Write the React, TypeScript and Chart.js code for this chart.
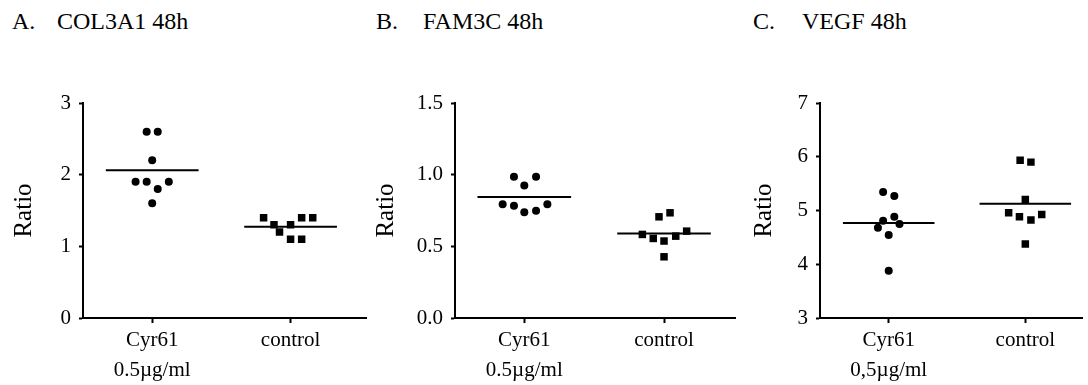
import React, { useEffect, useRef } from 'react';
import { Chart, registerables } from 'chart.js';

Chart.register(...registerables);

// ---------- data ----------
const categories = ['Cyr61', 'control'];

const panelLetters = ['A.', 'B.', 'C.'];
const panelGenes = ['COL3A1 48h', 'FAM3C 48h', 'VEGF 48h'];
const yAxisLabel = 'Ratio';

const xTickLabelsAB = [['Cyr61', '0.5µg/ml'], 'control'];
const xTickLabelsC = [['Cyr61', '0,5µg/ml'], 'control'];

const yTicksA = [0, 1, 2, 3];
const yTicksB = [0, 0.5, 1.0, 1.5];
const yTicksC = [3, 4, 5, 6, 7];

// Panel A: COL3A1
const colCyrValues = [2.6, 2.6, 2.2, 1.9, 1.9, 1.9, 1.8, 1.6];
const colCyrJitter = [-0.04, 0.04, 0, -0.12, -0.04, 0.12, 0.04, 0];
const colCtrlValues = [1.4, 1.4, 1.4, 1.3, 1.3, 1.2, 1.1, 1.1];
const colCtrlJitter = [-0.195, 0.08, 0.16, -0.12, 0, -0.08, 0, 0.08];

// Panel B: FAM3C
const famCyrValues = [0.985, 0.985, 0.925, 0.793, 0.784, 0.793, 0.737, 0.749];
const famCyrJitter = [-0.074, 0.084, 0, -0.155, -0.074, 0.165, 0, 0.084];
const famCtrlValues = [0.706, 0.734, 0.583, 0.555, 0.537, 0.571, 0.606, 0.427];
const famCtrlJitter = [-0.036, 0.043, -0.155, -0.077, 0, 0.084, 0.162, 0];

// Panel C: VEGF
const vegfCyrValues = [5.342, 5.268, 4.883, 4.808, 4.678, 4.747, 4.543, 3.879];
const vegfCyrJitter = [-0.041, 0.041, 0.041, -0.041, -0.079, 0.079, 0, 0];
const vegfCtrlValues = [5.937, 5.9, 5.206, 4.957, 4.883, 4.822, 4.927, 4.375];
const vegfCtrlJitter = [-0.038, 0.041, 0, -0.122, -0.043, 0.041, 0.12, 0];

// ---------- layout / style ----------
const FONT = '"Liberation Serif", "DejaVu Serif", serif';
const H = 385;
const MEAN_HALF = 0.335;

const panels = [
  {
    left: 0, width: 372, yAxisW: 83, padRight: 2, xMin: 0.5, xMax: 2.55,
    titlePad: 12, letterX: 12, geneX: 57,
    cyr: colCyrValues, cyrJ: colCyrJitter, ctrl: colCtrlValues, ctrlJ: colCtrlJitter,
    yTicks: yTicksA, fmt: (v: number) => String(v), xLabels: xTickLabelsAB,
  },
  {
    left: 372, width: 372, yAxisW: 83, padRight: 9, xMin: 0.504, xMax: 2.508,
    titlePad: 2, letterX: 376, geneX: 423,
    cyr: famCyrValues, cyrJ: famCyrJitter, ctrl: famCtrlValues, ctrlJ: famCtrlJitter,
    yTicks: yTicksB, fmt: (v: number) => v.toFixed(1), xLabels: xTickLabelsAB,
  },
  {
    left: 744, width: 344, yAxisW: 76, padRight: 0, xMin: 0.497, xMax: 2.42,
    titlePad: 8, letterX: 753, geneX: 802,
    cyr: vegfCyrValues, cyrJ: vegfCyrJitter, ctrl: vegfCtrlValues, ctrlJ: vegfCtrlJitter,
    yTicks: yTicksC, fmt: (v: number) => String(v), xLabels: xTickLabelsC,
  },
];

const mean = (a: number[]) => a.reduce((s, v) => s + v, 0) / a.length;

function Panel({ p }: { p: (typeof panels)[number] }) {
  const ref = useRef<HTMLCanvasElement | null>(null);
  useEffect(() => {
    if (!ref.current) return;
    const cyrPts = p.cyr.map((y, i) => ({ x: 1 + p.cyrJ[i], y }));
    const ctrlPts = p.ctrl.map((y, i) => ({ x: 2 + p.ctrlJ[i], y }));
    const mCyr = mean(p.cyr);
    const mCtrl = mean(p.ctrl);
    const chart = new Chart(ref.current, {
      type: 'scatter',
      data: {
        datasets: [
          {
            label: categories[0], data: cyrPts, pointStyle: 'circle', pointRadius: 4,
            backgroundColor: '#000', borderColor: '#000', borderWidth: 0,
          },
          {
            label: categories[1], data: ctrlPts, pointStyle: 'rect', pointRadius: 5.3,
            backgroundColor: '#000', borderColor: '#000', borderWidth: 0,
          },
          {
            label: 'mean ' + categories[0],
            data: [{ x: 1 - MEAN_HALF, y: mCyr }, { x: 1 + MEAN_HALF, y: mCyr }],
            showLine: true, borderColor: '#000', borderWidth: 2, pointRadius: 0,
          },
          {
            label: 'mean ' + categories[1],
            data: [{ x: 2 - MEAN_HALF, y: mCtrl }, { x: 2 + MEAN_HALF, y: mCtrl }],
            showLine: true, borderColor: '#000', borderWidth: 2, pointRadius: 0,
          },
        ],
      },
      options: {
        responsive: false,
        animation: false,
        devicePixelRatio: 1,
        layout: { padding: { top: 103, right: p.padRight, bottom: 0, left: 0 } },
        plugins: { legend: { display: false }, tooltip: { enabled: false }, title: { display: false } },
        scales: {
          x: {
            type: 'linear',
            min: p.xMin,
            max: p.xMax,
            afterBuildTicks: (s: any) => { s.ticks = [{ value: 1 }, { value: 2 }]; },
            afterFit: (s: any) => { s.height = H - 318; },
            grid: { display: true, drawOnChartArea: false, drawTicks: true, tickLength: 5, tickWidth: 2, tickColor: '#000' },
            border: { display: true, color: '#000', width: 2 },
            ticks: {
              autoSkip: false, maxRotation: 0, minRotation: 0, padding: 3, color: '#000',
              font: { family: FONT, size: 21, lineHeight: 1.4 },
              callback: (v: any) => (v === 1 ? p.xLabels[0] : p.xLabels[1]) as any,
            },
          },
          y: {
            min: p.yTicks[0],
            max: p.yTicks[p.yTicks.length - 1],
            afterBuildTicks: (s: any) => { s.ticks = p.yTicks.map((value) => ({ value })); },
            afterFit: (s: any) => { s.width = p.yAxisW; },
            grid: { display: true, drawOnChartArea: false, drawTicks: true, tickLength: 4, tickWidth: 2, tickColor: '#000' },
            border: { display: true, color: '#000', width: 2 },
            ticks: {
              padding: 8, color: '#000',
              font: { family: FONT, size: 21 },
              callback: (v: any) => p.fmt(Number(v)),
            },
            title: {
              display: true, text: yAxisLabel, color: '#000',
              font: { family: FONT, size: 25, lineHeight: 1 },
              padding: { top: p.titlePad, bottom: 0 },
            },
          },
        },
      },
    } as any);
    return () => chart.destroy();
  }, [p]);
  return (
    <canvas
      ref={ref}
      width={p.width}
      height={H}
      style={{ position: 'absolute', left: p.left, top: 0, width: p.width, height: H }}
    />
  );
}

export default function App() {
  return (
    <div style={{ position: 'absolute', left: 0, top: 0, width: 1088, height: H, background: '#fff', overflow: 'hidden' }}>
      {panels.map((p, i) => (
        <React.Fragment key={i}>
          <span style={{ position: 'absolute', left: p.letterX, top: 9, font: `24px ${FONT}`, lineHeight: '24px', color: '#000', whiteSpace: 'nowrap' }}>
            {panelLetters[i]}
          </span>
          <span style={{ position: 'absolute', left: p.geneX, top: 9, font: `24px ${FONT}`, lineHeight: '24px', color: '#000', whiteSpace: 'nowrap' }}>
            {panelGenes[i]}
          </span>
          <Panel p={p} />
        </React.Fragment>
      ))}
    </div>
  );
}
